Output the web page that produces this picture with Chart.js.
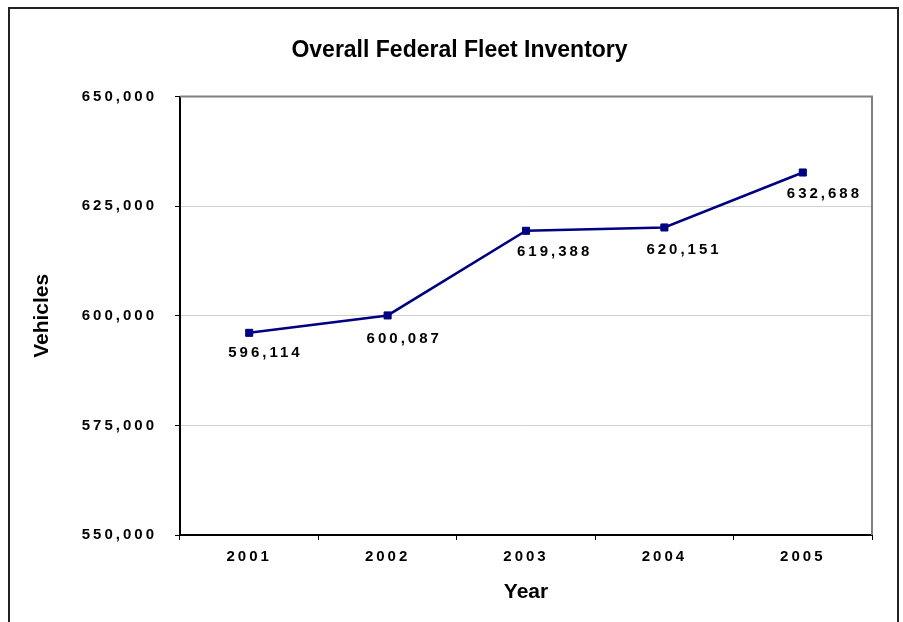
<!DOCTYPE html>
<html>
<head>
<meta charset="utf-8">
<script src="https://cdn.jsdelivr.net/npm/chart.js@4"></script>
<style>
  body { margin: 0; background: #fff; }
  canvas { display: block; }
</style>
</head>
<body>
<canvas id="fleetChart" width="903" height="622"></canvas>
<script>
const years = ['2001', '2002', '2003', '2004', '2005'];
const vehicles = [596114, 600087, 619388, 620151, 632688];
const yTicks = [550000, 575000, 600000, 625000, 650000];

const fmt = (v) => v.toLocaleString('en-US');
const FONT = "Arial, 'Liberation Sans', sans-serif";

// excel style wide spaced numbers for tick labels
const spacedTicks = {
  id: 'spacedTicks',
  beforeDraw(chart) {
    Object.values(chart.scales).forEach((s) => {
      if (s._spaced) return;
      const orig = s.drawLabels;
      s.drawLabels = function (area) {
        const c = this.ctx;
        c.save();
        c.letterSpacing = '3px';
        orig.call(this, area);
        c.restore();
      };
      s._spaced = true;
    });
  },
};

const frame = {
  id: 'frame',
  beforeDraw(chart) {
    const ctx = chart.ctx;
    ctx.save();
    ctx.fillStyle = '#fff';
    ctx.fillRect(0, 0, chart.width, chart.height);
    ctx.strokeStyle = '#222';
    ctx.lineWidth = 2;
    ctx.strokeRect(9, 8, 889, 700);
    ctx.restore();
  },
  beforeDatasetsDraw(chart) {
    const { ctx, chartArea: a } = chart;
    ctx.save();
    ctx.strokeStyle = '#808080';
    ctx.lineWidth = 2;
    ctx.beginPath();
    ctx.moveTo(a.left, a.top);
    ctx.lineTo(a.right, a.top);
    ctx.lineTo(a.right, a.bottom);
    ctx.stroke();
    ctx.restore();
  },
};

const pointLabels = {
  id: 'pointLabels',
  afterDatasetsDraw(chart, args, opts) {
    const ctx = chart.ctx;
    const meta = chart.getDatasetMeta(0);
    ctx.save();
    ctx.font = 'bold 15px ' + FONT;
    ctx.letterSpacing = '3px';
    ctx.fillStyle = '#000';
    ctx.textAlign = 'left';
    ctx.textBaseline = 'middle';
    meta.data.forEach((pt, i) => {
      const [dx, dy] = opts.offsets[i];
      ctx.fillText(fmt(vehicles[i]), pt.x + dx, pt.y + dy);
    });
    ctx.restore();
  },
};

new Chart(document.getElementById('fleetChart'), {
  type: 'line',
  data: {
    labels: years,
    datasets: [{
      data: vehicles,
      borderColor: '#000080',
      borderWidth: 2.5,
      tension: 0,
      pointStyle: 'rect',
      pointRadius: 5,
      pointBorderWidth: 1,
      pointBackgroundColor: '#000080',
      pointBorderColor: '#000080',
    }],
  },
  options: {
    responsive: false,
    animation: false,
    layout: { padding: { left: 47, right: 31, top: 0, bottom: 0 } },
    plugins: {
      legend: { display: false },
      tooltip: { enabled: false },
      title: {
        display: true,
        text: 'Overall Federal Fleet Inventory',
        color: '#000',
        font: { family: FONT, size: 23, weight: 'bold' },
        padding: { top: 37, bottom: 32 },
      },
      pointLabels: {
        offsets: [[-21, 20], [-21, 23], [-9, 21], [-18, 22], [-16, 21]],
      },
    },
    scales: {
      x: {
        offset: true,
        grid: {
          offset: true,
          drawOnChartArea: false,
          tickLength: 5,
          tickColor: '#000',
        },
        border: { color: '#000', width: 2 },
        ticks: {
          color: '#000',
          padding: 8,
          font: { family: FONT, size: 15, weight: 'bold' },
        },
        title: {
          display: true,
          text: 'Year',
          color: '#000',
          font: { family: FONT, size: 21, weight: 'bold' },
          padding: { top: 0, bottom: 17 },
        },
        afterFit(scale) { scale.height = 87; },
      },
      y: {
        min: yTicks[0],
        max: yTicks[yTicks.length - 1],
        afterBuildTicks(scale) {
          scale.ticks = yTicks.map((v) => ({ value: v }));
        },
        grid: {
          color: (c) => (c.tick && c.tick.value === yTicks[yTicks.length - 1] ? 'rgba(0,0,0,0)' : '#d0d0d0'),
          lineWidth: 1,
          tickLength: 5,
          tickColor: '#000',
        },
        border: { color: '#000', width: 2 },
        ticks: {
          color: '#000',
          padding: 18,
          font: { family: FONT, size: 15, weight: 'bold' },
          callback: (v) => fmt(v),
        },
        title: {
          display: true,
          text: 'Vehicles',
          color: '#000',
          font: { family: FONT, size: 21, weight: 'bold' },
          padding: { top: -17, bottom: 0 },
        },
        afterFit(scale) { scale.width = 133; },
      },
    },
  },
  plugins: [frame, spacedTicks, pointLabels],
});
</script>
</body>
</html>
